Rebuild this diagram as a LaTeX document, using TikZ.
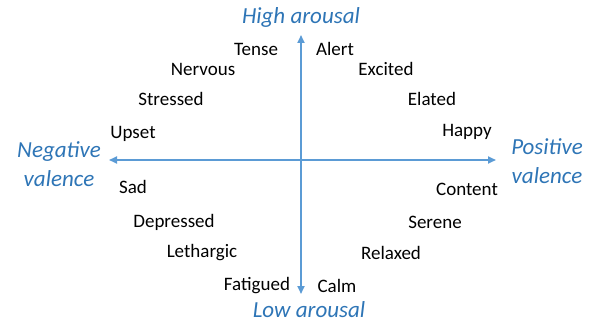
\documentclass[tikz,border=0pt]{standalone}
\usepackage{fontspec}
\setmainfont{Carlito}
\usetikzlibrary{arrows.meta}
\definecolor{axisblue}{HTML}{5B9BD5}
\definecolor{labelblue}{HTML}{2E75B6}
\begin{document}
\begin{tikzpicture}[x=1pt,y=-1pt,
  emotion/.style={font=\fontsize{19}{21}\selectfont, text=black, inner sep=0pt},
  axislabel/.style={font=\fontsize{23}{29}\selectfont\itshape, text=labelblue, inner sep=0pt, align=center},
  axisarrow/.style={draw=axisblue, line width=1.8pt, -{Triangle[length=8pt,width=7pt]}}]
\useasboundingbox (0,0) rectangle (591,323);
% axes
\coordinate (origin) at (301,160);
\coordinate (top) at (301,35);
\coordinate (bottom) at (301,294);
\coordinate (left) at (109,160);
\coordinate (right) at (496,160);
\draw[axisarrow] (origin) -- (top);
\draw[axisarrow] (origin) -- (bottom);
\draw[axisarrow] (origin) -- (left);
\draw[axisarrow] (origin) -- (right);
% axis labels
\node[axislabel] (high) at (301,17) {High arousal};
\node[axislabel] (low) at (309,310) {Low arousal};
\node[axislabel] (neg) at (59,164) {Negative\\valence};
\node[axislabel] (pos) at (547,161) {Positive\\valence};
% emotions
\node[emotion] (tense) at (256,49) {Tense};
\node[emotion] (alert) at (335,49) {Alert};
\node[emotion] (nervous) at (203,69) {Nervous};
\node[emotion] (excited) at (386,69) {Excited};
\node[emotion] (stressed) at (171,99) {Stressed};
\node[emotion] (elated) at (432,99) {Elated};
\node[emotion] (upset) at (133,134) {Upset};
\node[emotion] (happy) at (467,132) {Happy};
\node[emotion] (sad) at (133,187) {Sad};
\node[emotion] (content) at (467,189) {Content};
\node[emotion] (depressed) at (174,222) {Depressed};
\node[emotion] (serene) at (435,222) {Serene};
\node[emotion] (lethargic) at (202,253) {Lethargic};
\node[emotion] (relaxed) at (391,253) {Relaxed};
\node[emotion] (fatigued) at (257,286) {Fatigued};
\node[emotion] (calm) at (337,286) {Calm};
\end{tikzpicture}
\end{document}
